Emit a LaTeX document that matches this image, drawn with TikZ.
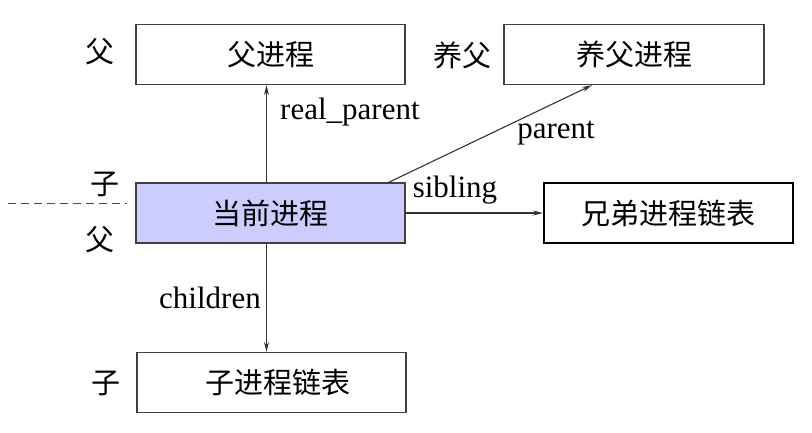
\documentclass[tikz,border=0pt]{standalone}
\usepackage{fontspec}
\setmainfont{Liberation Serif}
\newfontfamily\cjk{Noto Sans CJK SC}
\usetikzlibrary{arrows.meta}

\tikzset{
  proc/.style={draw=black!75, line width=1.2pt, minimum height=60pt, inner sep=0pt,
    font=\cjk\fontsize{29}{34}\selectfont},
  tag/.style={font=\cjk\fontsize{29}{34}\selectfont, inner sep=0pt},
  lbl/.style={font=\fontsize{31}{36}\selectfont, inner sep=0pt},
  ptr/.style={draw=black!80, line width=1.1pt, -{Stealth[length=10pt,width=5pt]}}
}

\begin{document}
\begin{tikzpicture}[x=1pt, y=-1pt]
    \useasboundingbox (0, 0) rectangle (812, 432);
    % boxes
    \node[proc, minimum width=269pt] (parent) at(270.5, 54.5) {父进程};
    \node[proc, minimum width=260pt] (adopt) at(634, 54.5) {养父进程};
    \node[proc, minimum width=269pt, fill={rgb,255:red,204;green,204;blue,255}] (cur) at(270.5, 213) {当前进程};
    \node[proc, minimum width=249pt, draw=black, line width=2pt] (sib) at(668.5, 213) {兄弟进程链表};
    \node[proc, minimum width=269pt] (child) at(271.5, 382.5) {\hspace{12pt}子进程链表};
    % side marks
    \node[tag] (f1) at(100, 52) {父};
    \node[tag] (f2) at(462, 55) {养父};
    \node[tag] (z1) at(105, 184) {子};
    \node[tag] (f3) at(100, 240) {父};
    \node[tag] (z2) at(106, 383) {子};
    \coordinate (dl) at(8, 203);
    \coordinate (dr) at(127, 203);
    \draw[black!70, line width=1pt, dash pattern=on 8pt off 5pt] (dl) -- (dr);
    % pointers
    \draw[ptr] ([xshift=-4pt]cur.north) -- ([xshift=-4pt]parent.south);
    \draw[ptr] ([xshift=-17pt]cur.north east) -- ([xshift=-42pt]adopt.south);
    \draw[ptr] (cur.east) -- (sib.west);
    \draw[ptr] ([xshift=-4pt]cur.south) -- ([xshift=-4pt]child.north -| cur.south);
    \node[lbl, anchor=west] (rp) at(280, 112) {real\_parent};
    \node[lbl] (pp) at(556, 133) {parent};
    \node[lbl] (sb) at(455, 190) {sibling};
    \node[lbl] (ch) at(210, 298) {children};
\end{tikzpicture}
\end{document}
